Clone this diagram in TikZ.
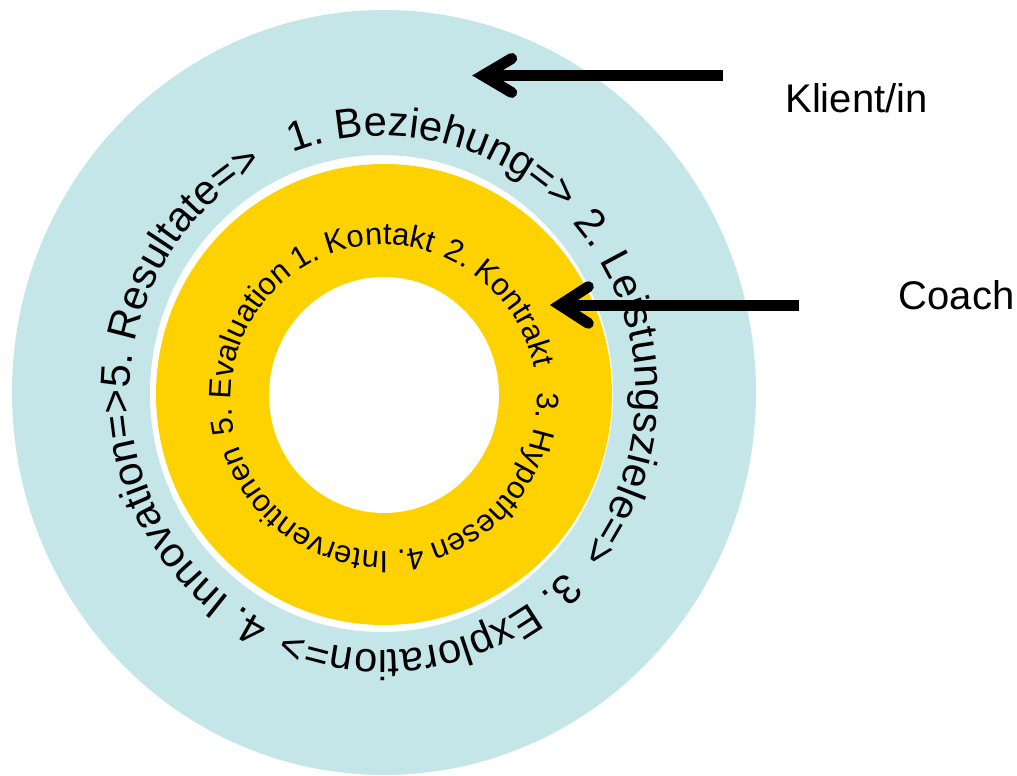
\documentclass[tikz,border=0pt]{standalone}
\usepackage{fontspec}
\setmainfont{Liberation Sans}
\usetikzlibrary{decorations.text,calc}

\definecolor{ringblue}{RGB}{196,230,232}
\definecolor{coregold}{RGB}{254,210,0}

\newcommand\ringfont{\fontsize{41.7}{41.7}\selectfont}
\newcommand\corefont{\fontsize{31}{31}\selectfont}
\newcommand\sidelabelfont{\fontsize{40}{40}\selectfont}

\begin{document}
\begin{tikzpicture}[x=1pt,y=1pt,
  ringtext/.style={decorate, decoration={text along path, text align=left,
      text={|\ringfont|#1}}},
  coretext/.style={decorate, decoration={text along path, text align=left,
      text={|\corefont|#1}}},
  sidelabel/.style={inner sep=0pt, anchor=base, font=\sidelabelfont},
  shaft/.style={draw=black, line width=11pt},
  barb/.style={draw=black, line width=11pt, line cap=round, line join=miter}]

\useasboundingbox (0,0) rectangle (1017,776);

% rings
\fill[ringblue] (384,383.5) ellipse [x radius=372, y radius=382.5];
\fill[white] (381.5,382.5) ellipse [x radius=231.5, y radius=238.5];
\fill[coregold] (384,381.5) ellipse [x radius=228, y radius=230.5];
\fill[white] (384,381) ellipse [x radius=115, y radius=118];

% centres of the two text circles
\coordinate (oc) at (383,383);
\coordinate (ic) at (384,378);

% outer ring: client phases, clockwise
\path[ringtext={1. Beziehung=>}]
  ($(oc)+(111:253 and 257)$) arc[start angle=111, end angle=10, x radius=253, y radius=257];
\path[ringtext={2. Leistungsziele=>}]
  ($(oc)+(41.5:253 and 257)$) arc[start angle=41.5, end angle=-60, x radius=253, y radius=257];
\path[ringtext={3. Exploration=>}]
  ($(oc)+(-44:253 and 257)$) arc[start angle=-44, end angle=-140, x radius=253, y radius=257];
\path[ringtext={4. Innovation=>5. Resultate=>}]
  ($(oc)+(-116.5:253 and 257)$) arc[start angle=-116.5, end angle=-260, x radius=253, y radius=257];

% inner ring: coach phases, clockwise
\path[coretext={5. Evaluation}]
  ($(ic)+(193.5:153)$) arc[start angle=193.5, end angle=100, radius=153];
\path[coretext={1. Kontakt}]
  ($(ic)+(124:153)$) arc[start angle=124, end angle=40, radius=153];
\path[coretext={2. Kontrakt}]
  ($(ic)+(67.5:153)$) arc[start angle=67.5, end angle=-20, radius=153];
\path[coretext={3. Hypothesen}]
  ($(ic)+(2:153)$) arc[start angle=2, end angle=-90, radius=153];
\path[coretext={4. Interventionen}]
  ($(ic)+(-75.5:153)$) arc[start angle=-75.5, end angle=-200, radius=153];

% labels
\node[sidelabel] (klient) at (856.5,663) {Klient/in};
\node[sidelabel] (coach) at (956.5,466) {Coach};

% arrows
\coordinate (kTail) at (723.3,700.5);
\coordinate (kTip) at (483,700.5);
\draw[shaft] (kTail) -- (kTip);
\draw[barb] ($(kTip)+(28.7,17)$) -- (kTip) -- ($(kTip)+(28.7,-17)$);

\coordinate (cTail) at (799.3,470.5);
\coordinate (cTip) at (560,471);
\draw[shaft] (cTail) -- (cTip |- cTail);
\draw[barb] ($(cTip)+(28.3,18.3)$) -- (cTip) -- ($(cTip)+(28.3,-18.3)$);
\end{tikzpicture}
\end{document}
